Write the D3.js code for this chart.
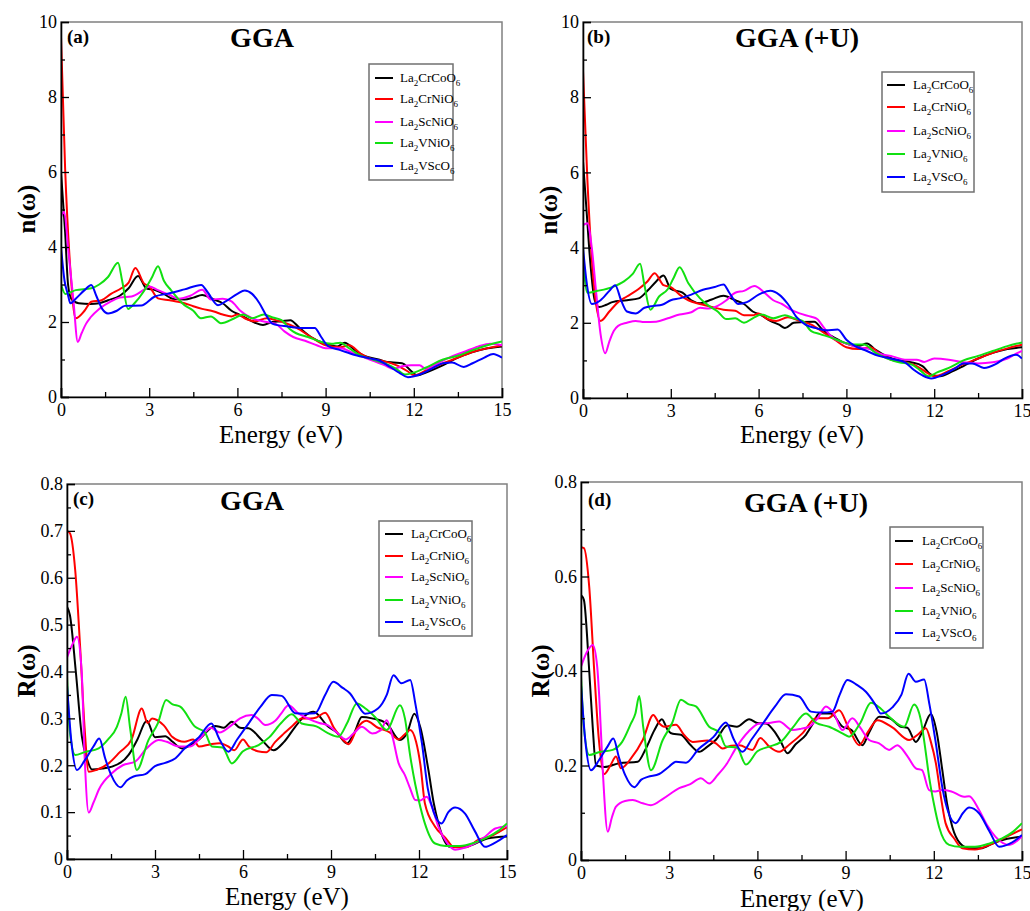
<!DOCTYPE html>
<html><head><meta charset="utf-8">
<script src="https://cdn.jsdelivr.net/npm/d3@7"></script>
<style>body{margin:0;background:#fff} svg{display:block}</style>
</head><body><svg id="chart" width="1030" height="911"></svg>
<script>
// ---------- DATA ----------
const compounds = [
  ["La","2","CrCoO","6"],
  ["La","2","CrNiO","6"],
  ["La","2","ScNiO","6"],
  ["La","2","VNiO","6"],
  ["La","2","VScO","6"]
];
const seriesColors = ["#000000","#ff0000","#ff00ff","#11e011","#0000ff"];
const energyTicks = [0,3,6,9,12,15];
const nTicks = [0,2,4,6,8,10];
const rTicksC = [0,0.1,0.2,0.3,0.4,0.5,0.6,0.7,0.8];
const rTicksD = [0,0.2,0.4,0.6,0.8];
const titles = ["GGA","GGA (+U)","GGA","GGA (+U)"];
const panelTags = ["(a)","(b)","(c)","(d)"];
const yTitles = ["n(\u03c9)","n(\u03c9)","R(\u03c9)","R(\u03c9)"];

// (a) refractive index, GGA
const a_CrCo = [[0,6.0],[0.14,4.4],[0.24,3.0],[0.35,2.62],[0.6,2.5],[1.0,2.48],[1.3,2.5],[1.6,2.58],[2.0,2.7],[2.3,2.9],[2.62,3.23],[2.9,2.9],[3.2,2.85],[3.5,2.75],[3.8,2.62],[4.2,2.6],[4.5,2.65],[4.8,2.72],[5.2,2.6],[5.5,2.5],[5.8,2.3],[6.0,2.22],[6.3,2.1],[6.6,1.98],[6.87,1.92],[7.2,2.0],[7.5,2.02],[7.8,2.05],[8.1,1.85],[8.5,1.6],[9.0,1.42],[9.4,1.35],[9.65,1.45],[10.0,1.25],[10.3,1.1],[10.8,1.0],[11.0,0.95],[11.3,0.92],[11.6,0.9],[11.9,0.7],[12.1,0.58],[12.5,0.68],[13.0,0.85],[13.5,1.05],[14.0,1.2],[14.5,1.3],[15.0,1.35]];
const a_CrNi = [[0,9.6],[0.14,6.1],[0.31,3.5],[0.5,2.1],[0.8,2.3],[1.03,2.54],[1.38,2.58],[1.7,2.75],[2.05,2.9],[2.3,3.05],[2.53,3.44],[2.82,3.03],[3.0,2.95],[3.3,2.63],[3.7,2.58],[4.2,2.5],[4.5,2.42],[4.8,2.35],[5.2,2.28],[5.5,2.2],[5.8,2.15],[6.0,2.2],[6.3,2.08],[6.6,2.02],[7.0,2.1],[7.3,2.05],[7.6,1.98],[8.0,1.85],[8.5,1.6],[9.0,1.38],[9.5,1.33],[9.8,1.38],[10.2,1.15],[10.6,1.0],[11.0,0.95],[11.4,0.85],[11.8,0.68],[12.0,0.58],[12.4,0.7],[13.0,0.9],[13.5,1.05],[14.0,1.2],[14.5,1.3],[15.0,1.38]];
const a_ScNi = [[0,4.8],[0.11,4.94],[0.25,3.9],[0.42,2.6],[0.57,1.47],[0.7,1.7],[0.85,1.95],[1.0,2.12],[1.3,2.35],[1.7,2.55],[2.0,2.65],[2.4,2.68],[2.8,2.85],[3.0,2.95],[3.3,2.85],[3.7,2.72],[4.0,2.62],[4.4,2.7],[4.8,2.86],[5.1,2.6],[5.5,2.62],[5.8,2.55],[6.1,2.3],[6.5,2.1],[7.0,2.0],[7.3,1.95],[7.6,1.75],[7.9,1.6],[8.3,1.5],[8.7,1.38],[9.0,1.3],[9.5,1.3],[10.0,1.15],[10.5,1.0],[11.0,0.85],[11.3,0.75],[11.6,0.82],[11.9,0.85],[12.2,0.85],[12.4,0.75],[12.7,0.85],[13.2,1.05],[13.7,1.2],[14.2,1.35],[14.6,1.42],[15.0,1.38]];
const a_VNi = [[0,3.0],[0.15,2.75],[0.5,2.85],[1.03,2.9],[1.3,3.0],[1.6,3.2],[1.94,3.58],[2.08,3.1],[2.28,2.35],[2.5,2.5],[2.8,2.8],[3.1,3.2],[3.3,3.49],[3.5,3.1],[3.74,2.85],[4.2,2.45],[4.5,2.3],[4.76,2.1],[5.1,2.15],[5.44,1.97],[5.9,2.1],[6.2,2.2],[6.5,2.1],[6.9,2.2],[7.2,2.12],[7.5,2.05],[7.8,1.8],[8.0,1.7],[8.4,1.6],[8.8,1.48],[9.2,1.42],[9.5,1.45],[9.8,1.3],[10.2,1.1],[10.6,1.0],[11.0,0.9],[11.4,0.75],[11.7,0.6],[12.0,0.65],[12.4,0.78],[13.0,1.0],[13.5,1.1],[14.0,1.25],[14.5,1.38],[15.0,1.48]];
const a_VSc = [[0,4.0],[0.12,3.1],[0.23,2.75],[0.32,2.5],[0.5,2.62],[0.8,2.85],[1.03,2.99],[1.2,2.7],[1.4,2.35],[1.6,2.23],[1.9,2.3],[2.17,2.43],[2.73,2.44],[3.19,2.68],[3.6,2.75],[4.2,2.87],[4.77,2.99],[5.0,2.78],[5.34,2.45],[5.6,2.55],[6.0,2.75],[6.25,2.84],[6.5,2.75],[6.75,2.5],[7.0,2.15],[7.2,1.95],[7.72,1.88],[8.2,1.84],[8.63,1.84],[8.85,1.6],[9.08,1.36],[9.5,1.25],[10.0,1.12],[10.5,1.03],[10.8,0.98],[11.2,0.8],[11.5,0.65],[11.8,0.53],[12.2,0.6],[12.6,0.75],[13.0,0.9],[13.3,0.92],[13.7,0.8],[14.0,0.9],[14.4,1.05],[14.7,1.15],[15.0,1.05]];

// (b) refractive index, GGA+U
const b_CrCo = [[0,6.3],[0.12,5.0],[0.25,3.6],[0.4,2.6],[0.55,2.42],[0.8,2.48],[1.0,2.55],[1.5,2.6],[1.9,2.65],[2.2,2.85],[2.5,3.1],[2.75,3.26],[3.0,2.9],[3.4,2.8],[3.7,2.6],[4.0,2.52],[4.4,2.62],[4.8,2.72],[5.2,2.6],[5.5,2.5],[5.8,2.3],[6.1,2.2],[6.4,2.05],[6.7,1.95],[6.9,1.86],[7.2,2.0],[7.5,2.02],[7.9,2.03],[8.2,1.8],[8.6,1.6],[9.0,1.45],[9.4,1.38],[9.7,1.45],[10.0,1.28],[10.4,1.1],[10.8,1.0],[11.2,0.95],[11.6,0.85],[11.9,0.62],[12.2,0.58],[12.6,0.7],[13.0,0.85],[13.5,1.05],[14.0,1.2],[14.5,1.3],[15.0,1.35]];
const b_CrNi = [[0,8.7],[0.15,5.8],[0.35,3.2],[0.6,2.05],[0.9,2.3],[1.2,2.55],[1.5,2.7],[1.9,2.9],[2.2,3.1],[2.45,3.32],[2.75,3.0],[3.0,2.95],[3.3,2.75],[3.6,2.6],[4.0,2.5],[4.4,2.42],[4.8,2.35],[5.2,2.32],[5.5,2.2],[5.8,2.2],[6.0,2.25],[6.3,2.1],[6.6,2.05],[7.0,2.15],[7.4,2.05],[7.8,1.95],[8.2,1.75],[8.6,1.55],[9.0,1.35],[9.4,1.3],[9.8,1.35],[10.2,1.15],[10.6,1.0],[11.0,0.95],[11.4,0.85],[11.8,0.65],[12.0,0.58],[12.5,0.72],[13.0,0.9],[13.5,1.05],[14.0,1.2],[14.5,1.32],[15.0,1.42]];
const b_ScNi = [[0,4.6],[0.15,4.65],[0.3,4.0],[0.45,2.8],[0.6,1.7],[0.76,1.19],[0.9,1.5],[1.05,1.78],[1.2,1.92],[1.5,2.0],[1.8,2.05],[2.1,2.02],[2.5,2.03],[2.9,2.12],[3.3,2.22],[3.7,2.28],[4.0,2.4],[4.3,2.38],[4.6,2.45],[4.9,2.6],[5.2,2.8],[5.5,2.85],[5.86,2.98],[6.2,2.8],[6.5,2.6],[6.8,2.5],[7.1,2.35],[7.4,2.25],[7.8,2.16],[8.0,2.1],[8.25,1.85],[8.5,1.63],[9.0,1.45],[9.4,1.35],[9.8,1.3],[10.1,1.19],[10.6,1.1],[11.0,1.02],[11.4,1.02],[11.66,0.96],[12.0,1.05],[12.5,1.02],[13.0,0.95],[13.5,0.92],[14.0,0.95],[14.5,1.05],[14.8,1.18],[15.0,1.25]];
const b_VNi = [[0,3.7],[0.15,2.8],[0.5,2.85],[1.0,2.95],[1.4,3.1],[1.7,3.3],[1.95,3.57],[2.1,3.0],[2.3,2.35],[2.6,2.7],[2.9,2.9],[3.1,3.2],[3.3,3.48],[3.6,3.05],[4.0,2.65],[4.3,2.45],[4.6,2.3],[4.9,2.1],[5.2,2.12],[5.5,2.0],[5.8,2.12],[6.1,2.22],[6.5,2.12],[6.9,2.2],[7.2,2.12],[7.5,2.05],[7.8,1.78],[8.1,1.7],[8.5,1.6],[8.9,1.48],[9.3,1.42],[9.6,1.42],[10.0,1.2],[10.4,1.05],[10.8,0.95],[11.2,0.9],[11.5,0.75],[11.8,0.58],[12.1,0.68],[12.5,0.8],[13.0,1.0],[13.5,1.12],[14.0,1.25],[14.5,1.38],[15.0,1.48]];
const b_VSc = [[0,4.0],[0.12,3.1],[0.3,2.5],[0.6,2.6],[0.9,2.85],[1.1,3.0],[1.3,2.6],[1.5,2.3],[1.8,2.25],[2.1,2.4],[2.4,2.45],[2.7,2.48],[3.0,2.6],[3.3,2.65],[3.7,2.75],[4.1,2.88],[4.5,2.95],[4.8,3.02],[5.0,2.8],[5.3,2.5],[5.6,2.55],[6.0,2.75],[6.4,2.85],[6.7,2.75],[7.0,2.5],[7.3,2.15],[7.6,1.95],[8.0,1.85],[8.3,1.8],[8.7,1.82],[9.0,1.55],[9.3,1.38],[9.7,1.25],[10.1,1.12],[10.5,1.05],[11.0,0.95],[11.3,0.75],[11.6,0.6],[11.9,0.52],[12.3,0.62],[12.7,0.78],[13.0,0.92],[13.3,0.92],[13.7,0.8],[14.1,0.9],[14.4,1.05],[14.8,1.15],[15.0,1.05]];

// (c) reflectivity, GGA
const c_CrCo = [[0,0.538],[0.1,0.52],[0.3,0.4],[0.51,0.26],[0.7,0.21],[0.85,0.191],[1.2,0.193],[1.53,0.197],[2.1,0.222],[2.4,0.255],[2.72,0.295],[3.0,0.26],[3.35,0.262],[3.6,0.25],[3.92,0.236],[4.48,0.254],[5.05,0.284],[5.35,0.28],[5.62,0.293],[5.9,0.28],[6.19,0.279],[6.64,0.254],[7.04,0.232],[7.4,0.25],[7.78,0.282],[8.1,0.305],[8.4,0.314],[8.91,0.282],[9.2,0.27],[9.54,0.247],[9.8,0.27],[10.05,0.303],[10.4,0.3],[10.9,0.289],[11.35,0.254],[11.6,0.27],[11.84,0.31],[12.05,0.28],[12.32,0.19],[12.5,0.12],[12.66,0.076],[13.06,0.026],[13.5,0.025],[13.8,0.03],[14.36,0.044],[15.0,0.048]];
const c_CrNi = [[0,0.70],[0.1,0.695],[0.28,0.616],[0.45,0.45],[0.6,0.28],[0.74,0.186],[1.0,0.19],[1.42,0.204],[1.8,0.228],[2.2,0.255],[2.55,0.321],[2.75,0.29],[2.9,0.3],[3.3,0.285],[3.6,0.26],[4.0,0.25],[4.3,0.255],[4.5,0.24],[4.9,0.245],[5.2,0.247],[5.5,0.24],[5.7,0.232],[6.0,0.255],[6.2,0.24],[6.5,0.23],[6.8,0.228],[7.1,0.25],[7.4,0.268],[7.7,0.285],[8.0,0.3],[8.3,0.3],[8.5,0.302],[8.8,0.312],[9.1,0.28],[9.4,0.255],[9.6,0.245],[9.9,0.28],[10.2,0.295],[10.6,0.28],[11.0,0.27],[11.3,0.255],[11.5,0.265],[11.7,0.275],[11.9,0.25],[12.05,0.2],[12.2,0.119],[12.55,0.069],[12.9,0.045],[13.2,0.025],[13.6,0.025],[14.0,0.04],[14.5,0.05],[15.0,0.068]];
const c_ScNi = [[0,0.43],[0.2,0.46],[0.34,0.474],[0.5,0.4],[0.6,0.22],[0.74,0.099],[0.9,0.12],[1.1,0.15],[1.53,0.183],[1.9,0.2],[2.33,0.208],[2.7,0.235],[3.12,0.254],[3.4,0.25],[3.8,0.24],[4.2,0.24],[4.6,0.262],[4.9,0.28],[5.2,0.27],[5.6,0.285],[5.9,0.3],[6.3,0.307],[6.5,0.3],[6.76,0.286],[7.1,0.295],[7.3,0.31],[7.55,0.328],[7.9,0.31],[8.2,0.3],[8.6,0.29],[8.9,0.285],[9.2,0.27],[9.5,0.255],[9.8,0.27],[10.05,0.282],[10.4,0.268],[10.7,0.275],[10.9,0.296],[11.1,0.26],[11.3,0.205],[11.52,0.179],[11.7,0.15],[11.87,0.126],[12.05,0.125],[12.26,0.133],[12.45,0.11],[12.66,0.069],[12.95,0.035],[13.23,0.02],[13.8,0.03],[14.2,0.045],[14.6,0.065],[15.0,0.07]];
const c_VNi = [[0,0.389],[0.1,0.27],[0.28,0.222],[0.6,0.228],[1.08,0.236],[1.4,0.255],[1.7,0.282],[1.85,0.31],[2.0,0.346],[2.15,0.28],[2.38,0.19],[2.78,0.254],[3.1,0.29],[3.38,0.339],[3.6,0.33],[3.86,0.325],[4.37,0.282],[4.7,0.27],[4.94,0.24],[5.3,0.238],[5.62,0.204],[6.0,0.23],[6.53,0.243],[6.9,0.26],[7.3,0.29],[7.66,0.309],[8.0,0.289],[8.5,0.283],[8.91,0.268],[9.25,0.261],[9.55,0.29],[9.88,0.332],[10.2,0.32],[10.5,0.303],[10.9,0.275],[11.35,0.328],[11.52,0.3],[11.7,0.22],[11.87,0.16],[12.05,0.11],[12.2,0.076],[12.55,0.033],[12.9,0.028],[13.4,0.028],[13.9,0.035],[14.3,0.045],[14.7,0.06],[15.0,0.076]];
const c_VSc = [[0,0.371],[0.15,0.25],[0.34,0.19],[0.6,0.21],[0.9,0.24],[1.1,0.257],[1.3,0.215],[1.5,0.18],[1.82,0.153],[2.05,0.168],[2.27,0.176],[2.67,0.181],[3.0,0.198],[3.35,0.205],[3.7,0.215],[4.0,0.235],[4.5,0.26],[4.92,0.289],[5.2,0.255],[5.5,0.229],[5.8,0.255],[6.2,0.29],[6.6,0.325],[6.98,0.35],[7.32,0.348],[7.78,0.311],[8.1,0.31],[8.46,0.311],[8.8,0.35],[9.08,0.378],[9.4,0.365],[9.65,0.353],[9.9,0.33],[10.16,0.31],[10.6,0.321],[10.9,0.35],[11.13,0.392],[11.4,0.375],[11.7,0.382],[11.88,0.33],[12.1,0.247],[12.3,0.15],[12.5,0.1],[12.77,0.076],[13.0,0.1],[13.23,0.11],[13.57,0.097],[13.9,0.06],[14.25,0.026],[14.6,0.035],[15.0,0.051]];

// (d) reflectivity, GGA+U
const d_CrCo = [[0,0.561],[0.1,0.55],[0.28,0.40],[0.4,0.28],[0.51,0.2],[0.8,0.197],[1.3,0.205],[1.93,0.208],[2.2,0.235],[2.5,0.275],[2.75,0.298],[2.95,0.275],[3.12,0.267],[3.4,0.265],[3.7,0.245],[4.02,0.229],[4.3,0.24],[4.6,0.255],[4.98,0.285],[5.3,0.282],[5.72,0.298],[6.0,0.29],[6.29,0.289],[6.6,0.27],[6.8,0.25],[7.02,0.226],[7.3,0.245],[7.65,0.265],[7.9,0.29],[8.1,0.31],[8.5,0.31],[8.9,0.282],[9.2,0.275],[9.57,0.243],[9.8,0.27],[10.14,0.303],[10.5,0.3],[10.88,0.282],[11.1,0.28],[11.39,0.25],[11.6,0.27],[11.9,0.309],[12.1,0.27],[12.29,0.19],[12.45,0.12],[12.63,0.07],[12.9,0.035],[13.2,0.025],[13.6,0.025],[14.0,0.035],[14.5,0.045],[15.0,0.05]];
const d_CrNi = [[0,0.662],[0.1,0.66],[0.28,0.578],[0.45,0.40],[0.6,0.26],[0.79,0.182],[1.0,0.2],[1.19,0.219],[1.36,0.194],[1.7,0.215],[2.1,0.254],[2.46,0.307],[2.65,0.29],[2.83,0.282],[3.23,0.286],[3.5,0.265],[3.8,0.25],[4.3,0.253],[4.59,0.247],[4.81,0.236],[5.1,0.242],[5.38,0.243],[5.83,0.233],[6.1,0.258],[6.4,0.24],[6.74,0.229],[7.1,0.245],[7.53,0.268],[7.99,0.3],[8.4,0.3],[8.78,0.317],[9.1,0.28],[9.46,0.243],[9.75,0.27],[10.08,0.296],[10.6,0.28],[11.16,0.254],[11.45,0.265],[11.73,0.279],[11.9,0.25],[12.07,0.205],[12.25,0.13],[12.4,0.078],[12.7,0.045],[12.97,0.025],[13.4,0.022],[14.0,0.035],[14.5,0.05],[15.0,0.065]];
const d_ScNi = [[0,0.409],[0.2,0.44],[0.4,0.455],[0.55,0.41],[0.62,0.346],[0.74,0.19],[0.91,0.06],[1.05,0.09],[1.19,0.113],[1.5,0.125],[1.76,0.127],[2.1,0.12],[2.38,0.116],[2.8,0.13],[3.34,0.152],[3.7,0.16],[4.08,0.173],[4.36,0.162],[4.65,0.18],[4.93,0.201],[5.3,0.24],[5.7,0.272],[6.06,0.289],[6.4,0.29],[6.74,0.293],[7.19,0.275],[7.5,0.278],[7.76,0.282],[8.05,0.3],[8.33,0.325],[8.6,0.31],[8.89,0.275],[9.23,0.3],[9.5,0.28],[9.8,0.254],[10.14,0.247],[10.48,0.233],[10.76,0.243],[11.1,0.22],[11.39,0.194],[11.6,0.19],[11.84,0.148],[12.05,0.145],[12.29,0.148],[12.6,0.145],[13.03,0.134],[13.2,0.135],[13.54,0.106],[13.8,0.075],[14.1,0.049],[14.56,0.032],[15.0,0.05]];
const d_VNi = [[0,0.388],[0.1,0.28],[0.28,0.222],[0.6,0.228],[1.08,0.233],[1.4,0.25],[1.7,0.289],[1.85,0.31],[1.98,0.347],[2.12,0.28],[2.38,0.19],[2.78,0.254],[3.1,0.29],[3.4,0.339],[3.65,0.33],[3.91,0.325],[4.36,0.282],[4.7,0.27],[4.93,0.24],[5.3,0.238],[5.61,0.202],[6.0,0.23],[6.4,0.24],[6.8,0.25],[7.2,0.28],[7.65,0.31],[8.0,0.29],[8.44,0.282],[8.89,0.268],[9.12,0.261],[9.5,0.29],[9.86,0.333],[10.2,0.32],[10.48,0.303],[10.99,0.282],[11.33,0.329],[11.56,0.296],[11.7,0.24],[11.84,0.176],[12.0,0.12],[12.18,0.07],[12.52,0.032],[12.9,0.028],[13.4,0.028],[13.9,0.035],[14.3,0.045],[14.7,0.06],[15.0,0.078]];
const d_VSc = [[0,0.37],[0.15,0.25],[0.34,0.19],[0.6,0.21],[0.9,0.24],[1.1,0.257],[1.3,0.215],[1.5,0.18],[1.81,0.154],[2.05,0.17],[2.27,0.176],[2.66,0.182],[3.0,0.198],[3.23,0.208],[3.57,0.206],[4.0,0.235],[4.5,0.26],[4.93,0.291],[5.2,0.255],[5.49,0.229],[5.8,0.255],[6.2,0.29],[6.6,0.325],[6.97,0.351],[7.42,0.346],[7.82,0.314],[8.2,0.312],[8.55,0.314],[8.8,0.35],[9.06,0.381],[9.4,0.37],[9.69,0.356],[10.0,0.33],[10.2,0.31],[10.59,0.323],[10.9,0.35],[11.14,0.394],[11.39,0.377],[11.67,0.382],[11.85,0.33],[12.07,0.247],[12.3,0.15],[12.5,0.1],[12.74,0.078],[13.0,0.1],[13.2,0.111],[13.54,0.099],[13.9,0.06],[14.22,0.028],[14.6,0.035],[15.0,0.053]];

// ---------- LAYOUT ----------
const panels = [
  {series:[a_CrCo,a_CrNi,a_ScNi,a_VNi,a_VSc], L:61, R:502, T:22, B:397, yMax:10, major:nTicks, minor:d3.range(1,10,2), fmt:d=>String(d),
   title:[262,47], tag:[67,43], ylab:[26,209], xlab:[281,443], leg:{x:369,y:64,w:84,h:116,rows:[78,99,122,143,166],lx:375,tx:400}},
  {series:[b_CrCo,b_CrNi,b_ScNi,b_VNi,b_VSc], L:583, R:1022, T:22, B:398, yMax:10, major:nTicks, minor:d3.range(1,10,2), fmt:d=>String(d),
   title:[797,47], tag:[587,43], ylab:[548,210], xlab:[802,443], leg:{x:882,y:72,w:92,h:120,rows:[85,107,131,154,177],lx:887,tx:913}},
  {series:[c_CrCo,c_CrNi,c_ScNi,c_VNi,c_VSc], L:67, R:507, T:484, B:859, yMax:0.8, major:rTicksC, minor:d3.range(0.05,0.8,0.1), fmt:d=>d===0?"0":d.toFixed(1),
   title:[252,510], tag:[73,505], ylab:[26,671], xlab:[287,905], leg:{x:379,y:521,w:93,h:115,rows:[534,556,577,600,622],lx:385,tx:411}},
  {series:[d_CrCo,d_CrNi,d_ScNi,d_VNi,d_VSc], L:581, R:1022, T:482, B:860, yMax:0.8, major:rTicksD, minor:d3.range(0.1,0.8,0.2), fmt:d=>d===0?"0":d.toFixed(1),
   title:[806,512], tag:[588,506], ylab:[540,671], xlab:[802,907], leg:{x:890,y:527,w:93,h:121,rows:[541,564,588,611,633],lx:895,tx:922}}
];

const svg = d3.select("#chart");
const serif = "'Liberation Serif','Times New Roman',serif";

panels.forEach((p, i) => {
  const x = d3.scaleLinear().domain([0,15]).range([p.L, p.R]);
  const y = d3.scaleLinear().domain([0,p.yMax]).range([p.B, p.T]);
  const g = svg.append("g");

  const clipId = "clip" + i;
  svg.append("clipPath").attr("id", clipId).append("rect")
    .attr("x", p.L).attr("y", p.T).attr("width", p.R - p.L).attr("height", p.B - p.T);

  // frame
  g.append("rect").attr("x", p.L).attr("y", p.T).attr("width", p.R - p.L).attr("height", p.B - p.T)
    .attr("fill", "none").attr("stroke", "#808080").attr("stroke-width", 1.5);

  // lines
  const line = d3.line().x(d => x(d[0])).y(d => y(d[1])).curve(d3.curveMonotoneX);
  const lg = g.append("g").attr("clip-path", `url(#${clipId})`);
  p.series.forEach((s, k) => {
    lg.append("path").datum(s).attr("d", line).attr("fill", "none")
      .attr("stroke", seriesColors[k]).attr("stroke-width", 2).attr("stroke-linejoin", "round");
  });

  // axes
  const xMajor = d3.axisBottom(x).tickValues(energyTicks).tickSize(-9).tickPadding(6).tickFormat(d => String(d));
  const xMinor = d3.axisBottom(x).tickValues([1.5,4.5,7.5,10.5,13.5]).tickSize(-5).tickFormat("");
  const yMajor = d3.axisLeft(y).tickValues(p.major).tickSize(-8).tickPadding(4).tickFormat(p.fmt);
  const yMinor = d3.axisLeft(y).tickValues(p.minor).tickSize(-4).tickFormat("");

  const gx = g.append("g").attr("transform", `translate(0,${p.B})`).call(xMajor);
  const gx2 = g.append("g").attr("transform", `translate(0,${p.B})`).call(xMinor);
  const gy = g.append("g").attr("transform", `translate(${p.L},0)`).call(yMajor);
  const gy2 = g.append("g").attr("transform", `translate(${p.L},0)`).call(yMinor);
  [gx2, gy2].forEach(a => a.select(".domain").remove());
  [gx, gx2, gy, gy2].forEach(a => {
    a.selectAll("line").attr("stroke", "#000").attr("stroke-width", 1.3);
    a.selectAll(".domain").attr("stroke", "#000").attr("stroke-width", 1.6);
    a.selectAll("text").attr("font-family", serif).attr("font-size", 18).attr("fill", "#000");
  });

  // titles
  g.append("text").attr("x", p.title[0]).attr("y", p.title[1]).attr("text-anchor", "middle")
    .attr("font-family", serif).attr("font-weight", "bold").attr("font-size", 28).text(titles[i]);
  g.append("text").attr("x", p.tag[0]).attr("y", p.tag[1])
    .attr("font-family", serif).attr("font-weight", "bold").attr("font-size", 19).text(panelTags[i]);
  g.append("text").attr("transform", `translate(${p.ylab[0]},${p.ylab[1]}) rotate(-90)`)
    .attr("text-anchor", "middle").attr("dy", "0.35em")
    .attr("font-family", serif).attr("font-weight", "bold").attr("font-size", 25).text(yTitles[i]);
  g.append("text").attr("x", p.xlab[0]).attr("y", p.xlab[1]).attr("text-anchor", "middle")
    .attr("font-family", serif).attr("font-size", 25).text("Energy (eV)");

  // legend
  const L = p.leg;
  g.append("rect").attr("x", L.x).attr("y", L.y).attr("width", L.w).attr("height", L.h)
    .attr("fill", "#fff").attr("stroke", "#707070").attr("stroke-width", 1.5);
  compounds.forEach((c, k) => {
    const ry = L.rows[k];
    g.append("line").attr("x1", L.lx).attr("x2", L.lx + 18).attr("y1", ry).attr("y2", ry)
      .attr("stroke", seriesColors[k]).attr("stroke-width", 2);
    const t = g.append("text").attr("x", L.tx).attr("y", ry + 4)
      .attr("font-family", serif).attr("font-size", 13).attr("fill", "#000");
    t.append("tspan").text(c[0]);
    t.append("tspan").attr("font-size", 9).attr("dy", 4).text(c[1]);
    t.append("tspan").attr("dy", -4).text(c[2]);
    t.append("tspan").attr("font-size", 9).attr("dy", 4).text(c[3]);
  });
});
</script>
</body></html>
